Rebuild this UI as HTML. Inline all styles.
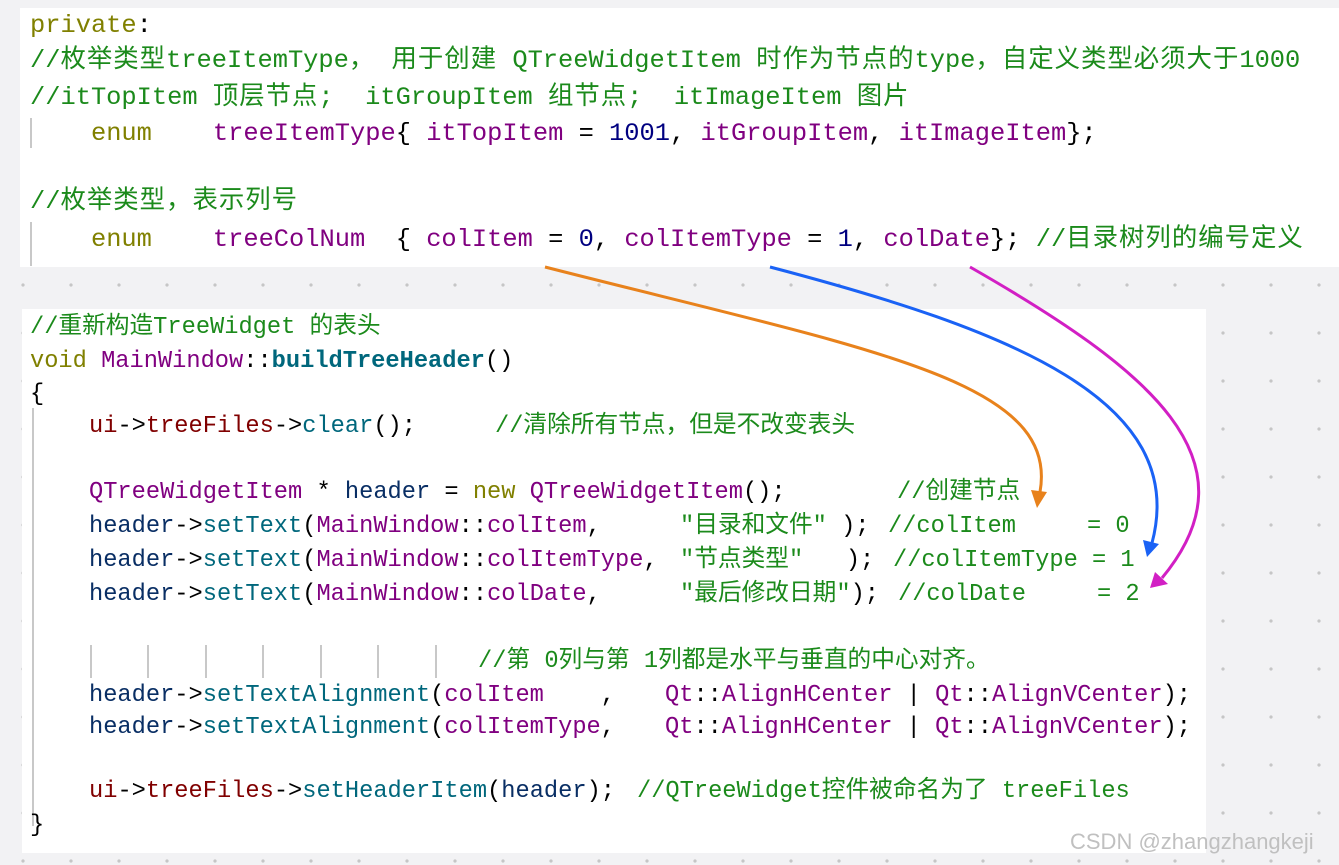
<!DOCTYPE html>
<html><head><meta charset="utf-8"><style>
html,body{margin:0;padding:0}
body{width:1339px;height:865px;position:relative;overflow:hidden;background:#f2f2f4;
background-image:radial-gradient(circle,#c6c6c6 1.4px,transparent 1.9px);background-size:48px 48px;background-position:-1px 21px;}
.p{position:absolute;background:#fff}
.l{position:absolute;white-space:pre;font-family:"Liberation Mono","Noto Sans CJK SC",monospace;font-size:23.7px;line-height:28px;color:#000}
.T{font-size:25.4px}
.T .k{letter-spacing:1px}
.g{color:#1b8a1b}.o{color:#808000}.m{color:#800080}.n{color:#000080}.t{color:#00677c}.r{color:#800000}.h{color:#092e64}.b{font-weight:bold}
.v{position:absolute;width:2px;background:#c8c8c8}
</style></head><body>
<div class="p" style="left:20px;top:8px;width:1319px;height:259px"></div>
<div class="p" style="left:22px;top:309px;width:1184px;height:544px"></div>

<div class="v" style="left:30px;top:118px;height:30px"></div>
<div class="v" style="left:30px;top:222px;height:44px"></div>
<div class="v" style="left:32px;top:408px;height:418px"></div>
<div class="v" style="left:90px;top:645px;height:33px"></div>
<div class="v" style="left:147px;top:645px;height:33px"></div>
<div class="v" style="left:205px;top:645px;height:33px"></div>
<div class="v" style="left:262px;top:645px;height:33px"></div>
<div class="v" style="left:320px;top:645px;height:33px"></div>
<div class="v" style="left:377px;top:645px;height:33px"></div>
<div class="v" style="left:435px;top:645px;height:33px"></div>

<div class="l T" style="left:30px;top:12px"><span class="o">private</span>:</div>
<div class="l T g" style="left:30px;top:47px">//<span class="k">枚举类型</span>treeItemType<span class="k">， 用于创建</span> QTreeWidgetItem <span class="k">时作为节点的</span>type<span class="k">，自定义类型必须大于</span>1000</div>
<div class="l T g" style="left:30px;top:84px">//itTopItem <span class="k">顶层节点;</span>  itGroupItem <span class="k">组节点;</span>  itImageItem <span class="k">图片</span></div>
<div class="l T" style="left:30px;top:120px">    <span class="o">enum</span>    <span class="m">treeItemType</span>{ <span class="m">itTopItem</span> = <span class="n">1001</span>, <span class="m">itGroupItem</span>, <span class="m">itImageItem</span>};</div>
<div class="l T g" style="left:30px;top:188px">//<span class="k">枚举类型，表示列号</span></div>
<div class="l T" style="left:30px;top:226px">    <span class="o">enum</span>    <span class="m">treeColNum</span>  { <span class="m">colItem</span> = <span class="n">0</span>, <span class="m">colItemType</span> = <span class="n">1</span>, <span class="m">colDate</span>}; <span class="g">//<span class="k">目录树列的编号定义</span></span></div>

<div class="l g" style="left:30px;top:314px">//重新构造TreeWidget 的表头</div>
<div class="l" style="left:30px;top:348px"><span class="o">void</span> <span class="m">MainWindow</span>::<span class="t b">buildTreeHeader</span>()</div>
<div class="l" style="left:30px;top:381px">{</div>
<div class="l" style="left:89px;top:413px"><span class="r">ui</span>-&gt;<span class="r">treeFiles</span>-&gt;<span class="t">clear</span>();</div>
<div class="l g" style="left:495px;top:413px">//清除所有节点，但是不改变表头</div>
<div class="l" style="left:89px;top:479px"><span class="m">QTreeWidgetItem</span> * <span class="h">header</span> = <span class="o">new</span> <span class="m">QTreeWidgetItem</span>();</div>
<div class="l g" style="left:897px;top:479px">//创建节点</div>
<div class="l" style="left:89px;top:513px"><span class="h">header</span>-&gt;<span class="t">setText</span>(<span class="m">MainWindow</span>::<span class="m">colItem</span>,</div>
<div class="l g" style="left:680px;top:513px">"目录和文件" <span style="color:#000">);</span></div>
<div class="l g" style="left:888px;top:513px">//colItem     = 0</div>
<div class="l" style="left:89px;top:547px"><span class="h">header</span>-&gt;<span class="t">setText</span>(<span class="m">MainWindow</span>::<span class="m">colItemType</span>,</div>
<div class="l g" style="left:680px;top:547px">"节点类型"   <span style="color:#000">);</span></div>
<div class="l g" style="left:893px;top:547px">//colItemType = 1</div>
<div class="l" style="left:89px;top:581px"><span class="h">header</span>-&gt;<span class="t">setText</span>(<span class="m">MainWindow</span>::<span class="m">colDate</span>,</div>
<div class="l g" style="left:680px;top:581px">"最后修改日期"<span style="color:#000">);</span></div>
<div class="l g" style="left:898px;top:581px">//colDate     = 2</div>
<div class="l g" style="left:478px;top:648px">//第 0列与第 1列都是水平与垂直的中心对齐。</div>
<div class="l" style="left:89px;top:682px"><span class="h">header</span>-&gt;<span class="t">setTextAlignment</span>(<span class="m">colItem</span>    ,</div>
<div class="l" style="left:665px;top:682px"><span class="m">Qt</span>::<span class="m">AlignHCenter</span> | <span class="m">Qt</span>::<span class="m">AlignVCenter</span>);</div>
<div class="l" style="left:89px;top:714px"><span class="h">header</span>-&gt;<span class="t">setTextAlignment</span>(<span class="m">colItemType</span>,</div>
<div class="l" style="left:665px;top:714px"><span class="m">Qt</span>::<span class="m">AlignHCenter</span> | <span class="m">Qt</span>::<span class="m">AlignVCenter</span>);</div>
<div class="l" style="left:89px;top:778px"><span class="r">ui</span>-&gt;<span class="r">treeFiles</span>-&gt;<span class="t">setHeaderItem</span>(<span class="h">header</span>);</div>
<div class="l g" style="left:637px;top:778px">//QTreeWidget控件被命名为了 treeFiles</div>
<div class="l" style="left:30px;top:812px">}</div>

<div style="position:absolute;left:1070px;top:829px;font-family:'Liberation Sans',sans-serif;font-size:22px;color:#c0c0c0;white-space:pre">CSDN @zhangzhangkeji</div>

<svg width="1339" height="865" style="position:absolute;left:0;top:0">
<path d="M545,267 C870,350 1060,380 1040,492" fill="none" stroke="#e8821c" stroke-width="3"/>
<polygon points="1031,490 1047,492 1037,508" fill="#e8821c"/>
<path d="M770,267 C1010,330 1190,400 1152,543" fill="none" stroke="#1a62f5" stroke-width="3"/>
<polygon points="1143,540 1159,544 1147,557" fill="#1a62f5"/>
<path d="M970,267 C1150,370 1260,460 1162,578" fill="none" stroke="#d21fc4" stroke-width="3"/>
<polygon points="1155,572 1168,584 1150,588" fill="#d21fc4"/>
</svg>
</body></html>
